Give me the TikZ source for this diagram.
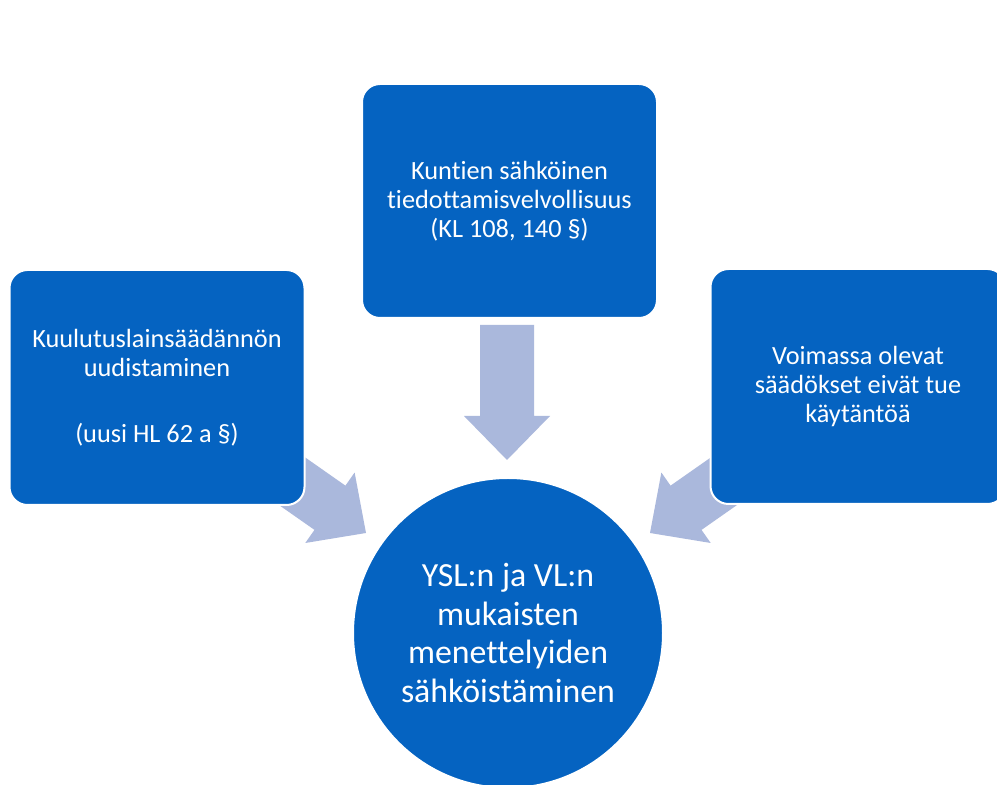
\documentclass[tikz,border=0pt]{standalone}
\usepackage{fontspec}
\setmainfont{Carlito}[Ligatures=NoCommon]
\definecolor{boxblue}{HTML}{0563C1}
\definecolor{arrowblue}{HTML}{AAB8DC}
\begin{document}
\begin{tikzpicture}[x=1pt,y=1pt,
  card/.style={rectangle, rounded corners=18pt, fill=boxblue, draw=white, line width=2pt,
    text=white, align=center, font=\fontsize{26.3}{29}\selectfont, inner sep=0pt,
    minimum width=295pt, minimum height=235pt},
  hub/.style={circle, fill=boxblue, draw=white, line width=2pt, text=white, align=center,
    font=\fontsize{33.8}{38.5}\selectfont, minimum size=310pt, inner sep=0pt},
  blockarrow/.style={fill=arrowblue}]
\clip (0,0) rectangle (997,785);
\fill[white] (0,0) rectangle (997,785);
% block arrows (tip points)
\coordinate (tipT) at (507,325);
\coordinate (tipL) at (366,252);
\coordinate (tipR) at (650,252);
\begin{scope}[shift={(tipT)}, rotate=-90]
  \fill[blockarrow] (0,0) -- (-44,43) -- (-44,27) -- (-135,27) -- (-135,-27) -- (-44,-27) -- (-44,-43) -- cycle;
\end{scope}
\begin{scope}[shift={(tipL)}, rotate=-35]
  \fill[blockarrow] (0,0) -- (-44,43) -- (-44,27) -- (-135,27) -- (-135,-27) -- (-44,-27) -- (-44,-43) -- cycle;
\end{scope}
\begin{scope}[shift={(tipR)}, rotate=-145]
  \fill[blockarrow] (0,0) -- (-44,43) -- (-44,27) -- (-135,27) -- (-135,-27) -- (-44,-27) -- (-44,-43) -- cycle;
\end{scope}
% boxes
\node[card, minimum height=234pt] (top) at (509.5,584) {Kuntien sähköinen\\tiedottamisvelvollisuus\\(KL 108, 140 §)};
\node[card] (left) at (157,397.5) {Kuulutuslainsäädännön\\uudistaminen\\[37pt](uusi HL 62 a §)};
\node[card] (right) at (858,398.5) {Voimassa olevat\\säädökset eivät tue\\käytäntöä};
\node[hub] (hub) at (508,152) {YSL:n ja VL:n\\mukaisten\\menettelyiden\\sähköistäminen};
\end{tikzpicture}
\end{document}
